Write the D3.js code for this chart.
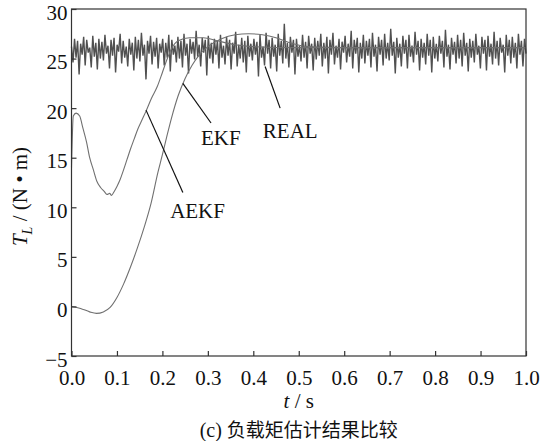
<!DOCTYPE html>
<html>
<head>
<meta charset="utf-8">
<script src="https://cdn.jsdelivr.net/npm/d3@7/dist/d3.min.js"></script>
<style>
  html, body { margin: 0; padding: 0; background: #fff; }
  svg { display: block; }
  .serif { font-family: "Liberation Serif", "Times New Roman", Times, "DejaVu Serif", serif; }
  .cjk { font-family: "Noto Sans CJK SC", sans-serif; }
</style>
</head>
<body>
<svg id="chart" width="541" height="441"></svg>
<script>
// Load torque estimation: measured load (REAL) vs EKF and AEKF estimates.

const xTicks = [0, 0.1, 0.2, 0.3, 0.4, 0.5, 0.6, 0.7, 0.8, 0.9, 1.0];
const yTicks = [-5, 0, 5, 10, 15, 20, 25, 30];

// Measured load torque, evenly sampled over 0..1 s
const realValues = [
  26.2,24.6,27.0,25.1,26.8,23.4,26.5,25.4,27.2,24.3,26.9,25.6,26.1,24.1,27.3,25.2,26.6,23.9,27.0,25.0,
  26.7,24.8,27.4,25.5,26.3,24.0,26.9,25.3,27.1,23.6,26.4,25.7,27.5,24.5,26.8,25.1,26.2,24.2,27.0,25.4,
  26.6,23.8,27.2,25.0,26.9,24.7,27.6,25.3,26.4,22.9,26.8,25.5,27.3,24.4,26.7,25.2,27.1,24.0,26.5,25.6,
  27.0,24.3,26.6,25.1,27.4,23.7,26.9,25.4,26.3,24.6,27.2,25.0,26.8,24.1,27.5,25.3,26.5,23.5,27.0,25.5,
  26.7,24.9,27.8,25.2,26.4,24.2,27.1,25.6,26.9,23.3,27.3,25.0,26.6,24.5,27.0,25.4,26.8,24.0,27.4,25.1,
  26.3,24.4,27.2,25.3,26.9,23.9,26.6,25.5,27.7,24.2,26.4,25.0,27.1,24.6,26.8,23.6,27.3,25.2,26.5,24.8,
  27.0,25.4,26.7,23.2,27.4,25.1,26.2,24.3,27.6,25.5,26.9,24.0,27.1,25.2,26.4,23.7,27.5,25.3,26.8,24.5,
  28.5,25.0,26.6,24.1,27.2,25.6,26.9,23.4,27.0,25.2,26.3,24.7,27.4,25.1,26.7,24.0,27.3,25.5,26.5,23.8,
  27.1,24.9,26.8,25.3,27.5,24.2,26.6,25.0,27.2,23.5,26.9,25.4,27.6,24.4,26.3,25.1,27.0,23.9,26.7,25.6,
  27.3,24.6,26.5,25.2,27.8,24.0,26.9,25.5,27.1,23.6,26.6,25.0,27.4,24.5,26.8,25.3,27.0,24.1,27.6,25.2,
  26.4,23.7,27.2,25.4,26.9,24.3,27.5,25.0,26.6,24.8,28.0,25.3,26.7,23.5,27.1,25.1,26.5,24.2,27.3,25.5,
  26.9,24.0,27.4,25.2,26.3,24.6,27.7,25.4,26.8,23.8,27.0,25.1,26.6,24.4,27.5,25.3,26.9,23.6,27.2,25.0,
  26.5,24.7,27.3,25.5,26.8,24.1,27.9,25.2,26.4,23.9,27.1,25.4,26.7,24.5,27.4,25.0,26.9,24.2,27.6,25.3,
  26.6,23.7,27.0,25.1,26.8,24.6,27.5,25.4,26.3,24.0,27.2,25.5,26.9,23.8,27.3,25.2,26.5,24.4,27.7,25.0,
  26.8,24.3,27.1,25.6,26.4,23.6,27.4,25.3,26.9,24.5,27.2,25.1,26.6,24.0,27.5,25.4,26.8,24.2,27.0,25.5
];

// EKF estimate: [t, torque]
const ekfPoints = [
  [0,0],[0.02,-0.2],[0.04,-0.55],[0.055,-0.7],[0.07,-0.55],[0.085,-0.1],[0.1,0.9],
  [0.115,2.3],[0.13,4.0],[0.145,5.9],[0.16,8.0],[0.175,10.4],[0.19,13.5],[0.2,15.3],
  [0.21,17.2],[0.22,19.0],[0.235,21.3],[0.25,23.0],[0.265,24.3],[0.28,25.3],[0.3,26.2],
  [0.33,27.0],[0.36,27.4],[0.39,27.5],[0.42,27.4],[0.45,27.1],[0.48,26.6],[0.52,26.2],
  [0.6,26.1],[0.8,26.1],[1.0,26.1]
];

// AEKF estimate: [t, torque]
const aekfPoints = [
  [0,14.0],[0.004,19.2],[0.01,19.5],[0.018,19.2],[0.025,18.0],[0.033,16.6],[0.04,15.0],
  [0.048,13.8],[0.056,12.6],[0.064,12.0],[0.072,11.6],[0.078,11.3],[0.084,11.4],[0.088,11.2],
  [0.094,11.6],[0.1,12.1],[0.107,12.8],[0.114,13.7],[0.122,14.8],[0.13,15.9],[0.138,16.9],
  [0.146,17.9],[0.155,18.8],[0.164,19.7],[0.176,21.0],[0.188,22.1],[0.2,23.6],[0.21,24.9],
  [0.22,26.0],[0.235,26.8],[0.26,27.1],[0.29,27.1],[0.32,26.8],[0.36,26.4],[0.4,26.2],
  [0.5,26.1],[1.0,26.1]
];

// Callouts: label, pointer tip [t, v], pointer end [t, v], label anchor [t, v]
const callouts = [
  { label: "EKF",  tip: [0.245, 22.5], end: [0.307, 18.5], at: [0.285, 16.3] },
  { label: "REAL", tip: [0.426, 24.2], end: [0.459, 20.0], at: [0.421, 17.0] },
  { label: "AEKF", tip: [0.164, 19.8], end: [0.245, 11.5], at: [0.217, 8.9] }
];

const svg = d3.select("#chart");
const margin = { left: 71.5, right: 15, top: 9, bottom: 85 };
const W = 541, H = 441;

const x = d3.scaleLinear().domain([0, 1]).range([margin.left, W - margin.right]);
const y = d3.scaleLinear().domain([-5, 30]).range([H - margin.bottom, margin.top]);

// Series
const line = d3.line().x(d => x(d[0])).y(d => y(d[1]));
const smooth = d3.line().x(d => x(d[0])).y(d => y(d[1])).curve(d3.curveMonotoneX);
const realPoints = realValues.map((v, i) => [i / (realValues.length - 1), v]);

svg.append("path").datum(realPoints).attr("d", line)
  .attr("fill", "none").attr("stroke", "#505050").attr("stroke-width", 1.4);
svg.append("path").datum(ekfPoints).attr("d", smooth)
  .attr("fill", "none").attr("stroke", "#707070").attr("stroke-width", 1.1);
svg.append("path").datum(aekfPoints).attr("d", smooth)
  .attr("fill", "none").attr("stroke", "#707070").attr("stroke-width", 1.1);

// Frame
svg.append("rect")
  .attr("x", x(0)).attr("y", y(30))
  .attr("width", x(1) - x(0)).attr("height", y(-5) - y(30))
  .attr("fill", "none").attr("stroke", "#333").attr("stroke-width", 1.2);

// Axes with inward ticks
const xAxis = svg.append("g").attr("transform", `translate(0,${y(-5)})`)
  .call(d3.axisBottom(x).tickValues(xTicks).tickFormat(d3.format(".1f")).tickSize(-5).tickPadding(10));
const yAxis = svg.append("g").attr("transform", `translate(${x(0)},0)`)
  .call(d3.axisLeft(y).tickValues(yTicks).tickFormat(d => d < 0 ? "\u2212" + Math.abs(d) : d).tickSize(-5).tickPadding(4));

[xAxis, yAxis].forEach(g => {
  g.attr("font-family", null).attr("font-size", null);
  g.select(".domain").remove();
  g.selectAll(".tick line").attr("stroke", "#333").attr("stroke-width", 1.2);
  g.selectAll(".tick text").attr("class", "serif").style("font-size", "21px").attr("fill", "#111");
});
xAxis.selectAll(".tick text").attr("dy", "0.9em");
yAxis.selectAll(".tick text").attr("dy", "0.48em");

// Callout pointers and labels
callouts.forEach(c => {
  svg.append("line")
    .attr("x1", x(c.tip[0])).attr("y1", y(c.tip[1]))
    .attr("x2", x(c.end[0])).attr("y2", y(c.end[1]))
    .attr("stroke", "#111").attr("stroke-width", 1.2);
  svg.append("text").attr("class", "serif")
    .attr("x", x(c.at[0])).attr("y", y(c.at[1]))
    .style("font-size", "21px").attr("fill", "#111")
    .text(c.label);
});

// Axis titles
const xt = svg.append("text").attr("class", "serif")
  .attr("x", (x(0) + x(1)) / 2).attr("y", 408)
  .attr("text-anchor", "middle")
  .style("font-size", "21px").attr("fill", "#111");
xt.append("tspan").style("font-style", "italic").text("t");
xt.append("tspan").text(" / s");

const yt = svg.append("text").attr("class", "serif")
  .attr("transform", `translate(27,${(y(-5) + y(30)) / 2 + 14}) rotate(-90)`)
  .attr("text-anchor", "middle")
  .style("font-size", "21px").attr("fill", "#111");
yt.append("tspan").style("font-style", "italic").text("T");
yt.append("tspan").style("font-style", "italic").style("font-size", "14px").attr("dy", 5).text("L");
yt.append("tspan").attr("dy", -5).text(" / (N \u2022 m)");

// Caption
const cap = svg.append("text")
  .attr("x", (x(0) + x(1)) / 2).attr("y", 437)
  .attr("text-anchor", "middle").attr("fill", "#111");
cap.append("tspan").attr("class", "serif").style("font-size", "20px").text("(c) ");
cap.append("tspan").attr("class", "cjk").style("font-size", "19px").text("负载矩估计结果比较");
</script>
</body>
</html>
